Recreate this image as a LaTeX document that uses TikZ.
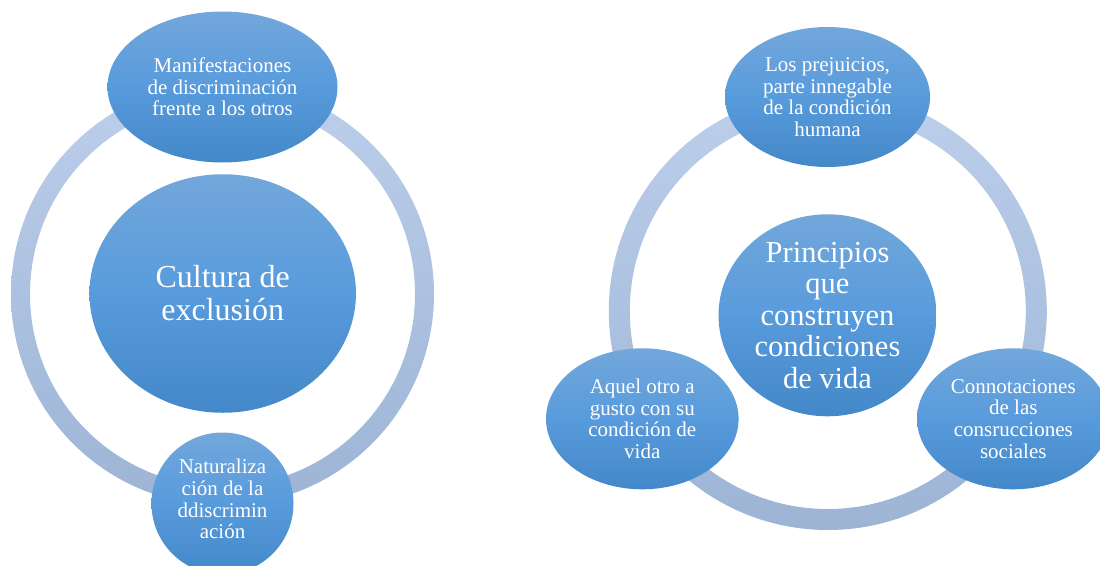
\documentclass[tikz,border=0pt]{standalone}
\usepackage{fontspec}
\setmainfont{Liberation Serif}
\usetikzlibrary{shapes.geometric}
\definecolor{bubTop}{RGB}{114,167,219}
\definecolor{bubMid}{RGB}{88,155,220}
\definecolor{bubBot}{RGB}{67,136,200}
\definecolor{ringTop}{RGB}{188,207,235}
\definecolor{ringBot}{RGB}{157,180,213}
\tikzset{
  bubble/.style={ellipse, inner sep=0pt, outer sep=0pt, draw=none,
    top color=bubTop, bottom color=bubBot, middle color=bubMid},
  smalltxt/.style={text=white, align=center, inner sep=0pt,
    font=\fontsize{21}{21.7}\selectfont},
  bigtxt/.style={text=white, align=center, inner sep=0pt,
    font=\fontsize{32}{33}\selectfont},
  ringband/.style={even odd rule, draw=none,
    top color=ringTop, bottom color=ringBot},
}
\begin{document}
\begin{tikzpicture}[x=1pt,y=-1pt]
\useasboundingbox (0,0) rectangle (1100,565);
% ---------- left diagram ----------
\coordinate (Lc) at (222.5,294);
\path[ringband] (Lc) circle[radius=211.5pt] (Lc) circle[radius=192.5pt];
\node[bubble, minimum width=230pt, minimum height=151pt] (Ltop) at (222.5,87) {};
\node[smalltxt] (LtopT) at (Ltop.center) {Manifestaciones\\de discriminación\\frente a los otros};
\node[bubble, minimum width=266.5pt, minimum height=238.5pt] (Lcen) at (222.7,293.5) {};
\node[bigtxt] (LcenT) at (Lcen.center) {Cultura de\\exclusión};
\node[bubble, minimum width=142pt, minimum height=142pt] (Lbot) at (222.5,503.5) {};
\node[smalltxt] (LbotT) at (222.5,499) {Naturaliza\\ción de la\\ddiscrimin\\ación};
% ---------- right diagram ----------
\coordinate (Rc) at (827.8,311);
\path[ringband] (Rc) circle[radius=219pt] (Rc) circle[radius=198pt];
\node[bubble, minimum width=205pt, minimum height=140pt] (Rtop) at (827.5,97) {};
\node[smalltxt] (RtopT) at (Rtop.center) {Los prejuicios,\\parte innegable\\de la condición\\humana};
\node[bubble, minimum width=218pt, minimum height=202pt] (Rcen) at (827.5,315.3) {};
\node[bigtxt, font=\fontsize{30.5}{31.4}\selectfont] (RcenT) at (Rcen.center) {Principios\\que\\construyen\\condiciones\\de vida};
\node[bubble, minimum width=192.6pt, minimum height=141pt] (Rleft) at (642.3,418.8) {};
\node[smalltxt] (RleftT) at (Rleft.center) {Aquel otro a\\gusto con su\\condición de\\vida};
\node[bubble, minimum width=192.6pt, minimum height=141pt] (Rright) at (1013.3,418.8) {};
\node[smalltxt] (RrightT) at (Rright.center) {Connotaciones\\de las\\consrucciones\\sociales};
\end{tikzpicture}
\end{document}
